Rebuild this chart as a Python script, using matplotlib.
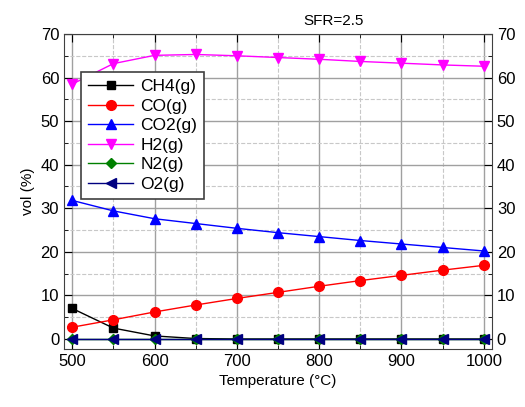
import matplotlib
matplotlib.use("Agg")
import matplotlib.pyplot as plt
from matplotlib.ticker import MultipleLocator

plt.rcParams['font.family'] = ['Liberation Sans', 'DejaVu Sans']

temp = [500, 550, 600, 650, 700, 750, 800, 850, 900, 950, 1000]
ch4 = [7.0, 2.5, 0.7, 0.1, 0.0, 0.0, 0.0, 0.0, 0.0, 0.0, 0.0]
co = [2.7, 4.4, 6.2, 7.8, 9.3, 10.7, 12.1, 13.4, 14.6, 15.8, 16.9]
co2 = [31.8, 29.4, 27.6, 26.5, 25.4, 24.4, 23.5, 22.6, 21.8, 21.0, 20.2]
h2 = [58.5, 63.2, 65.1, 65.3, 65.0, 64.6, 64.2, 63.7, 63.3, 62.9, 62.6]
n2 = [0.0] * 11
o2 = [0.0] * 11

fig = plt.figure(figsize=(5.25, 4.07), dpi=100)
ax = fig.add_axes([64/525, 1-349/407, 428/525, 315/407])

ax.plot(temp, ch4, '-s', color='black', ms=6, lw=1, label='CH4(g)')
ax.plot(temp, co, '-o', color='red', ms=7, lw=1, label='CO(g)')
ax.plot(temp, co2, '-^', color='blue', ms=7, lw=1, label='CO2(g)')
ax.plot(temp, h2, '-v', color='magenta', ms=7, lw=1, label='H2(g)')
ax.plot(temp, n2, '-D', color='green', ms=5, lw=1, label='N2(g)')
ax.plot(temp, o2, '-<', color='navy', ms=7, lw=1, label='O2(g)')

ax.set_xlim(490, 1010)
ax.set_ylim(-2.3, 70)
ax.xaxis.set_major_locator(MultipleLocator(100))
ax.xaxis.set_minor_locator(MultipleLocator(50))
ax.yaxis.set_major_locator(MultipleLocator(10))
ax.yaxis.set_minor_locator(MultipleLocator(5))
ax.grid(which='major', color='#a0a0a0', lw=1)
ax.grid(which='minor', color='#c8c8c8', ls='--', lw=0.8)
ax.set_axisbelow(True)
ax.tick_params(which='both', direction='in', top=True, right=True, labelright=True, labelsize=12)
ax.tick_params(which='major', length=6)
ax.tick_params(which='minor', length=3)
for s in ax.spines.values():
    s.set_color('#404040')

ax.set_xlabel('Temperature (°C)', fontsize=11)
ax.set_ylabel('vol (%)', fontsize=11)
ax.text(0.63, 1.02, 'SFR=2.5', transform=ax.transAxes, ha='center', va='bottom', fontsize=11)

leg = ax.legend(loc='upper left', bbox_to_anchor=(0.04, 0.879), borderaxespad=0, fontsize=12.5,
                fancybox=False, framealpha=1, edgecolor='#404040', handlelength=2.6,
                borderpad=0.4, labelspacing=0.25, handletextpad=0.4)
leg.get_frame().set_linewidth(1.2)

fig.savefig('out.png', dpi=100)
